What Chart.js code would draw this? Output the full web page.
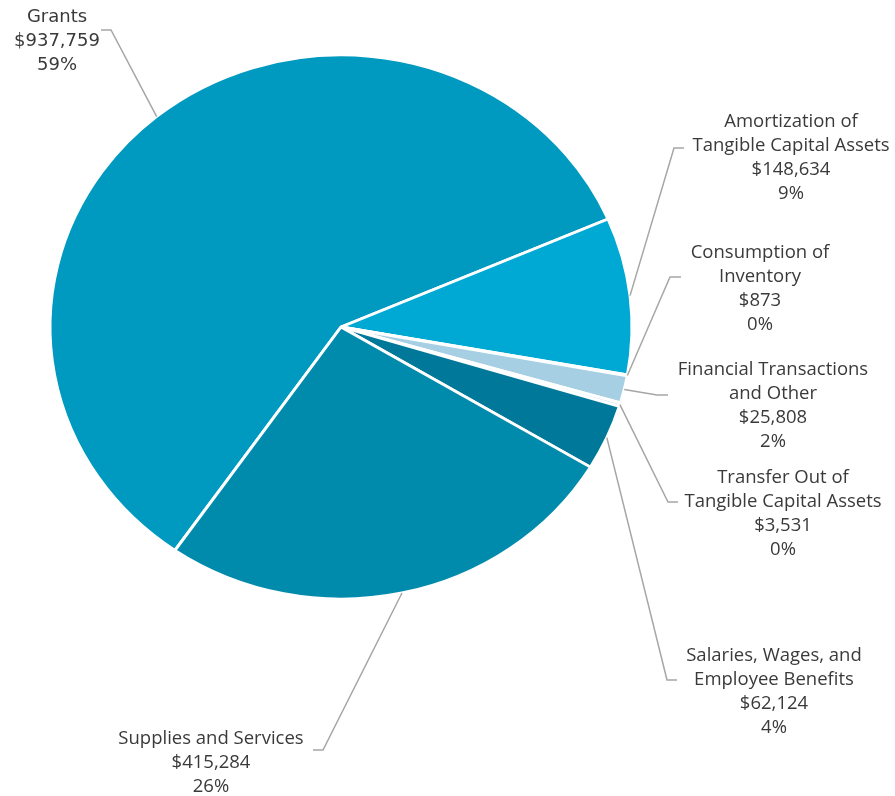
<!DOCTYPE html>
<html>
<head>
<meta charset="utf-8">
<script src="https://cdn.jsdelivr.net/npm/chart.js@4.4.1/dist/chart.umd.min.js"></script>
<style>
  html, body { margin: 0; padding: 0; background: #fff; }
  #wrap { width: 895px; height: 796px; position: relative; }
</style>
</head>
<body>
<div id="wrap"><canvas id="expenses" width="895" height="796"></canvas></div>
<script>
// categories and values
const categories = [
    ['Grants'],
    ['Amortization of', 'Tangible Capital Assets'],
    ['Consumption of', 'Inventory'],
    ['Financial Transactions', 'and Other'],
    ['Transfer Out of', 'Tangible Capital Assets'],
    ['Salaries, Wages, and', 'Employee Benefits'],
    ['Supplies and Services']
]
const amounts = [937759, 148634, 873, 25808, 3531, 62124, 415284]
const sliceColors = ['#009AC0', '#00A8D4', '#5DBFDF', '#A6CFE3', '#CFE6F1', '#00789A', '#008BAD']

// label placement (text centre, first line y, leader elbow and end)
const labelLayout = [
    { x: 57, y: 17, elbow: [111, 30], end: [101, 30], font: '18px "DejaVu Sans"' },
    { x: 791, y: 122, elbow: [674, 148], end: [684, 148] },
    { x: 760, y: 253, elbow: [670, 277], end: [681, 277] },
    { x: 773, y: 370, elbow: [657, 395], end: [668, 395] },
    { x: 783, y: 478, elbow: [668, 502], end: [678, 502] },
    { x: 774, y: 656, elbow: [667, 680], end: [677, 680] },
    { x: 211, y: 739, elbow: [323, 750], end: [313, 750] }
]

const yScale = 272 / 291
const total = amounts.reduce((a, b) => a + b, 0)

const ellipsePlugin = {
    id: 'ellipse',
    beforeDatasetsDraw(chart) {
        const arc = chart.getDatasetMeta(0).data[0]
        const ctx = chart.ctx
        ctx.save()
        ctx.translate(arc.x, arc.y)
        ctx.scale(1, yScale)
        ctx.translate(-arc.x, -arc.y)
    },
    afterDatasetsDraw(chart) {
        chart.ctx.restore()
    }
}

const labelPlugin = {
    id: 'calloutLabels',
    afterDraw(chart) {
        const ctx = chart.ctx
        const arcs = chart.getDatasetMeta(0).data
        ctx.save()
        arcs.forEach((arc, i) => {
            const mid = (arc.startAngle + arc.endAngle) / 2
            const ax = arc.x + Math.cos(mid) * arc.outerRadius
            const ay = arc.y + Math.sin(mid) * arc.outerRadius * yScale
            const lay = labelLayout[i]

            ctx.strokeStyle = '#A6A6A6'
            ctx.lineWidth = 1.5
            ctx.beginPath()
            ctx.moveTo(ax, ay)
            ctx.lineTo(lay.elbow[0], lay.elbow[1])
            ctx.lineTo(lay.end[0], lay.end[1])
            ctx.stroke()

            const pct = Math.round(amounts[i] / total * 100) + '%'
            const lines = categories[i].concat(['$' + amounts[i].toLocaleString('en-US'), pct])
            ctx.fillStyle = '#3A3A3A'
            ctx.font = lay.font || '18.5px "Open Sans"'
            ctx.textAlign = 'center'
            ctx.textBaseline = 'middle'
            lines.forEach((t, k) => ctx.fillText(t, lay.x, lay.y + k * 24))
        })
        ctx.restore()
    }
}

const ctx = document.getElementById('expenses').getContext('2d')
const expenseChart = new Chart(ctx, {
    type: 'pie',
    data: {
        labels: categories.map(c => c.join(' ')),
        datasets: [{
            data: amounts,
            backgroundColor: sliceColors,
            borderColor: '#ffffff',
            borderWidth: 3
        }]
    },
    options: {
        responsive: false,
        animation: false,
        rotation: 214.8,
        radius: 291,
        layout: { padding: { left: 0, top: 0, right: 213, bottom: 142 } },
        plugins: {
            legend: { display: false },
            tooltip: { enabled: false }
        }
    },
    plugins: [ellipsePlugin, labelPlugin]
})
</script>
</body>
</html>
